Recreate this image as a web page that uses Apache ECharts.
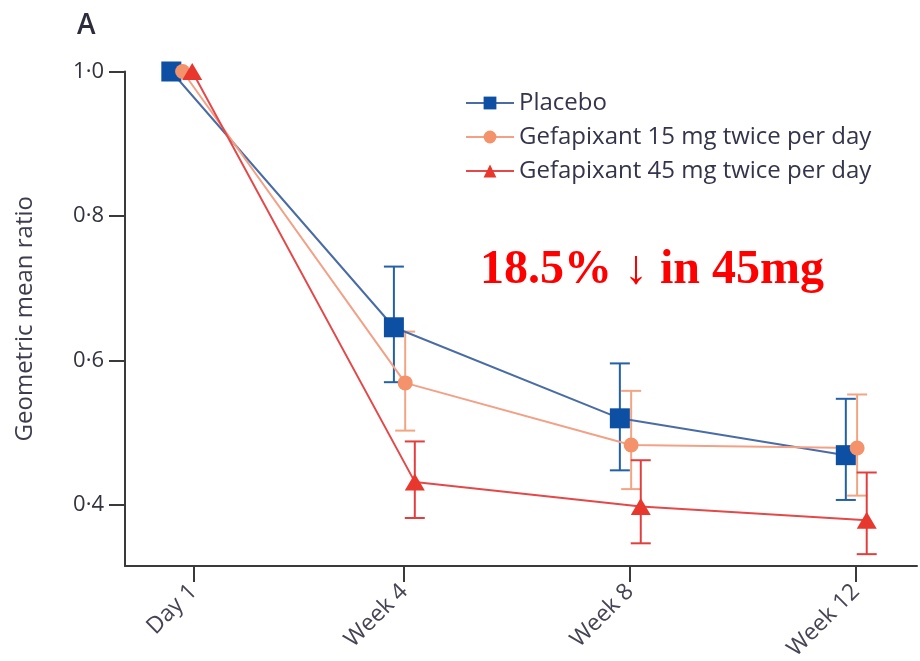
<!DOCTYPE html>
<html>
<head>
<meta charset="utf-8">
<script src="https://cdn.jsdelivr.net/npm/echarts@6/dist/echarts.min.js"></script>
<style>
  html, body { margin: 0; padding: 0; background: #fff; }
  #chart { width: 920px; height: 661px; }
</style>
</head>
<body>
<div id="chart"></div>
<script>
// Visits (x in weeks from randomisation)
const visitLabels = ['Day 1', 'Week 4', 'Week 8', 'Week 12'];
const tickWeeks = [0.27, 4, 8, 12];
const visitWeeks = [0.06, 4, 8, 12];

// Geometric mean ratio to baseline, with 95% CI
const placeboMean = [1.0, 0.646, 0.520, 0.469];
const placeboLow = [null, 0.570, 0.448, 0.407];
const placeboHigh = [null, 0.730, 0.596, 0.547];

const gef15Mean = [1.0, 0.569, 0.483, 0.479];
const gef15Low = [null, 0.503, 0.422, 0.413];
const gef15High = [null, 0.640, 0.558, 0.553];

const gef45Mean = [1.0, 0.432, 0.398, 0.379];
const gef45Low = [null, 0.382, 0.347, 0.332];
const gef45High = [null, 0.488, 0.462, 0.445];

const yTicks = [0.4, 0.6, 0.8, 1.0];

const seriesDefs = [
  { name: 'Placebo', mean: placeboMean, low: placeboLow, high: placeboHigh,
    dodge: -0.18, line: '#4a6ca6', mark: '#0d4fa3', bar: '#2360a8', barWidth: 2,
    symbol: 'rect', symbolSize: 20 },
  { name: 'Gefapixant 15 mg twice per day', mean: gef15Mean, low: gef15Low, high: gef15High,
    dodge: 0.02, line: '#f3a186', mark: '#f4926c', bar: '#f2a582', barWidth: 2,
    symbol: 'circle', symbolSize: 15 },
  { name: 'Gefapixant 45 mg twice per day', mean: gef45Mean, low: gef45Low, high: gef45High,
    dodge: 0.19, line: '#e44848', mark: '#e8372c', bar: '#e23e3e', barWidth: 2,
    symbol: 'triangle', symbolSize: [20, 17] }
];

const font = '"Open Sans", "Noto Sans", sans-serif';
const dot = v => v.toFixed(1).replace('.', '\u00b7');

const series = [];
seriesDefs.forEach(d => {
  const errData = [];
  d.mean.forEach((m, i) => {
    if (d.low[i] != null) errData.push([visitWeeks[i] + d.dodge, d.low[i], d.high[i]]);
  });
  series.push({
    type: 'custom',
    name: d.name + ' CI',
    z: 1,
    silent: true,
    data: errData,
    encode: { x: 0, y: [1, 2] },
    renderItem: function (params, api) {
      const x = api.value(0);
      const lo = api.coord([x, api.value(1)]);
      const hi = api.coord([x, api.value(2)]);
      const hw = 10;
      const style = { stroke: d.bar, lineWidth: d.barWidth };
      return {
        type: 'group',
        children: [
          { type: 'line', shape: { x1: hi[0], y1: hi[1], x2: lo[0], y2: lo[1] }, style: style },
          { type: 'line', shape: { x1: hi[0] - hw, y1: hi[1], x2: hi[0] + hw, y2: hi[1] }, style: style },
          { type: 'line', shape: { x1: lo[0] - hw, y1: lo[1], x2: lo[0] + hw, y2: lo[1] }, style: style }
        ]
      };
    }
  });
  series.push({
    type: 'line',
    name: d.name,
    z: 3,
    data: d.mean.map((m, i) => [visitWeeks[i] + d.dodge, m]),
    symbol: d.symbol,
    symbolSize: d.symbolSize,
    showAllSymbol: true,
    lineStyle: { color: d.line, width: 2 },
    itemStyle: { color: d.mark, borderWidth: 0 },
    emphasis: { disabled: true },
    animation: false
  });
});

const chart = echarts.init(document.getElementById('chart'), null, { renderer: 'canvas' });
chart.setOption({
  animation: false,
  backgroundColor: '#ffffff',
  grid: { left: 125, right: 3, top: 71.5, bottom: 95, outerBoundsMode: 'none', containLabel: false },
  legend: {
    left: 460,
    top: 85,
    orient: 'vertical',
    itemWidth: 48,
    itemHeight: 16,
    itemGap: 8,
    data: seriesDefs.map(d => d.name),
    textStyle: { fontFamily: font, fontSize: 24, color: '#34344a', lineHeight: 26, padding: [0, 0, 0, 0] }
  },
  xAxis: {
    type: 'value',
    min: -0.94,
    max: 13.08,
    splitLine: { show: false },
    axisLine: { show: true, onZero: false, lineStyle: { color: '#3a3a3a', width: 2 } },
    axisTick: { show: true, inside: false, length: 16, customValues: tickWeeks, lineStyle: { color: '#3a3a3a', width: 2 } },
    axisLabel: {
      customValues: tickWeeks,
      rotate: 45,
      margin: 22,
      fontFamily: font,
      fontSize: 23,
      color: '#444454',
      formatter: v => {
        const i = tickWeeks.findIndex(t => Math.abs(t - v) < 1e-6);
        return i >= 0 ? visitLabels[i] : '';
      }
    }
  },
  yAxis: {
    type: 'value',
    min: 0.3156,
    max: 1.0,
    name: 'Geometric mean ratio',
    nameLocation: 'middle',
    nameRotate: 90,
    nameGap: 88,
    nameTextStyle: { fontFamily: font, fontSize: 24, color: '#3c3c4c' },
    splitLine: { show: false },
    axisLine: { show: true, onZero: false, lineStyle: { color: '#3a3a3a', width: 2 } },
    axisTick: { show: true, inside: false, length: 16, customValues: yTicks, lineStyle: { color: '#3a3a3a', width: 2 } },
    axisLabel: {
      customValues: yTicks,
      margin: 21,
      fontFamily: font,
      fontSize: 22,
      color: '#333340',
      formatter: v => dot(v)
    }
  },
  graphic: [
    {
      type: 'text', left: 77, top: 12,
      style: { text: 'A', font: '600 28px "Open Sans", sans-serif', fill: '#2c2c3c' }
    },
    {
      type: 'text', left: 480, top: 247,
      style: { text: '18.5% \u2193 in 45mg', font: 'bold 48px "Liberation Serif", "Times New Roman", serif', fill: '#ff0000' }
    }
  ],
  series: series
});
</script>
</body>
</html>
